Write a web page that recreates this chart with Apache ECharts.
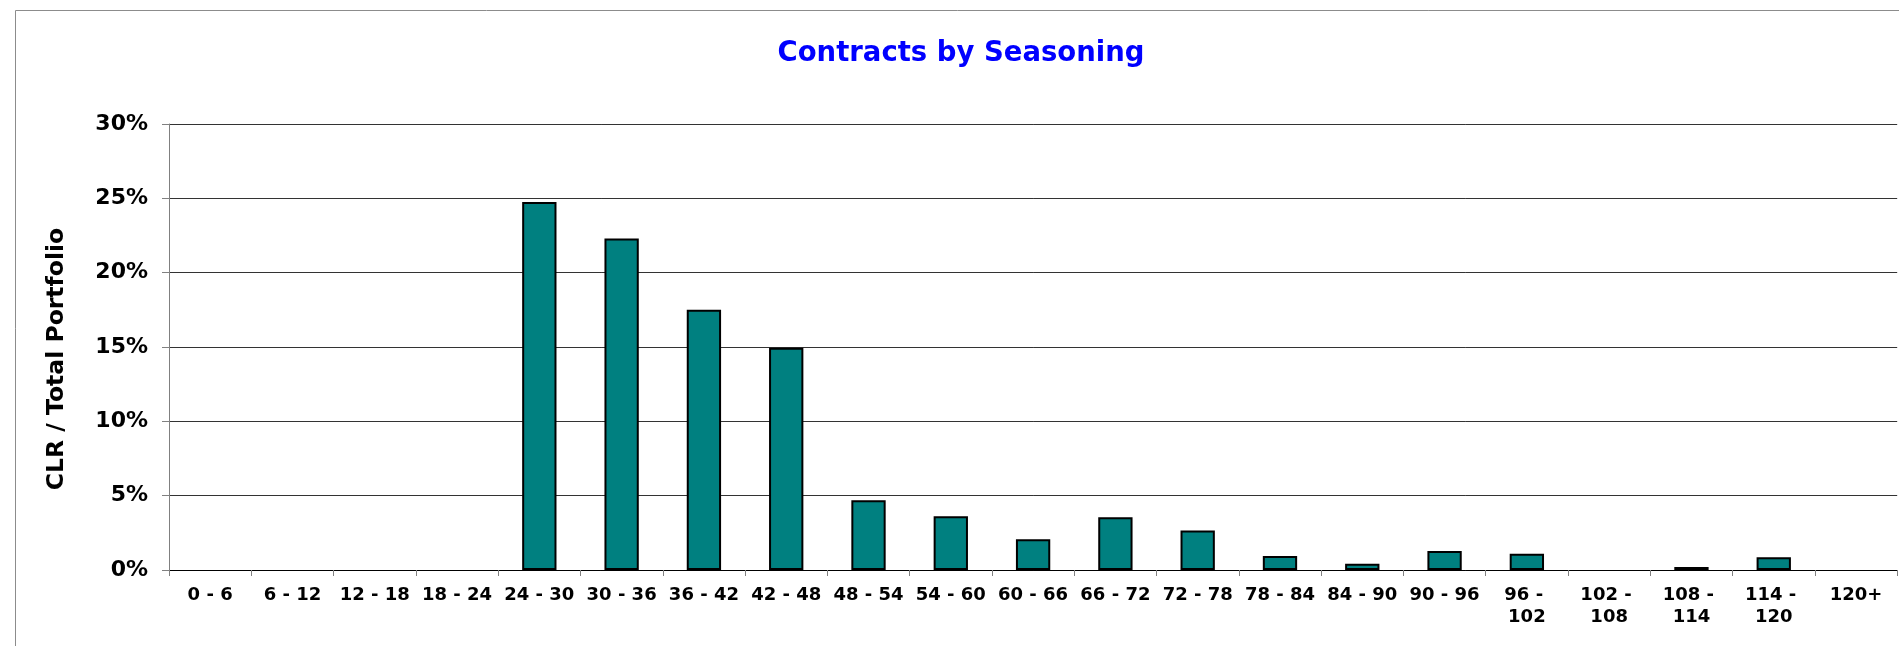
<!DOCTYPE html>
<html>
<head>
<meta charset="utf-8">
<script src="https://cdn.jsdelivr.net/npm/echarts@6/dist/echarts.min.js"></script>
<style>
html,body{margin:0;padding:0;background:#fff;}
#chart{width:1899px;height:646px;}
</style>
</head>
<body>
<div id="chart"></div>
<script>
const categories = ["0 - 6","6 - 12","12 - 18","18 - 24","24 - 30","30 - 36","36 - 42","42 - 48","48 - 54","54 - 60","60 - 66","66 - 72","72 - 78","78 - 84","84 - 90","90 - 96","96 - 102","102 - 108","108 - 114","114 - 120","120+"];
const clrShare = [0,0,0,0,24.75,22.3,17.5,14.95,4.7,3.62,2.06,3.55,2.65,0.95,0.42,1.27,1.1,0,0.2,0.85,0];
const yTicks = [0,5,10,15,20,25,30];

const font = "'DejaVu Sans', Verdana, sans-serif";
const chart = echarts.init(document.getElementById('chart'), null, {renderer:'canvas'});
chart.setOption({
  backgroundColor:'#ffffff',
  animation:false,
  title:{
    text:'Contracts by Seasoning',
    left:956, top:35, textAlign:'center',
    textStyle:{color:'#0000ff', fontFamily:font, fontWeight:'bold', fontSize:27.5}
  },
  graphic:[{
    type:'rect', left:13, top:8, z:-1,
    shape:{width:1900, height:660},
    style:{fill:'none', stroke:'#8c8c8c', lineWidth:1}
  }],
  grid:{left:169, right:0, top:124, bottom:76},
  xAxis:{
    type:'category', data:categories,
    axisLine:{lineStyle:{color:'#000', width:1}},
    axisTick:{show:true, length:6, lineStyle:{color:'#808080'}},
    axisLabel:{
      interval:0, margin:14, color:'#000', fontFamily:font, fontWeight:'bold', fontSize:18,
      width:80, overflow:'break', lineHeight:22
    }
  },
  yAxis:{
    type:'value', min:yTicks[0], max:yTicks[yTicks.length-1], interval:5,
    name:'CLR / Total Portfolio', nameLocation:'middle', nameGap:100, nameRotate:90,
    nameTextStyle:{color:'#000', fontFamily:font, fontWeight:'bold', fontSize:23.5, padding:[0,24,0,0]},
    axisLine:{show:true, lineStyle:{color:'#808080'}},
    axisTick:{show:true, length:7, lineStyle:{color:'#808080'}},
    axisLabel:{margin:21, color:'#000', fontFamily:font, fontWeight:'bold', fontSize:22, formatter:'{value}%'},
    splitLine:{show:true, lineStyle:{color:'#333', width:1}}
  },
  series:[{
    type:'bar',
    data:clrShare.map(v => v === 0 ? {value:v, itemStyle:{borderWidth:0}} : v),
    barWidth:'41.7%',
    itemStyle:{color:'#008080', borderColor:'#000', borderWidth:2}
  }]
});
</script>
</body>
</html>
